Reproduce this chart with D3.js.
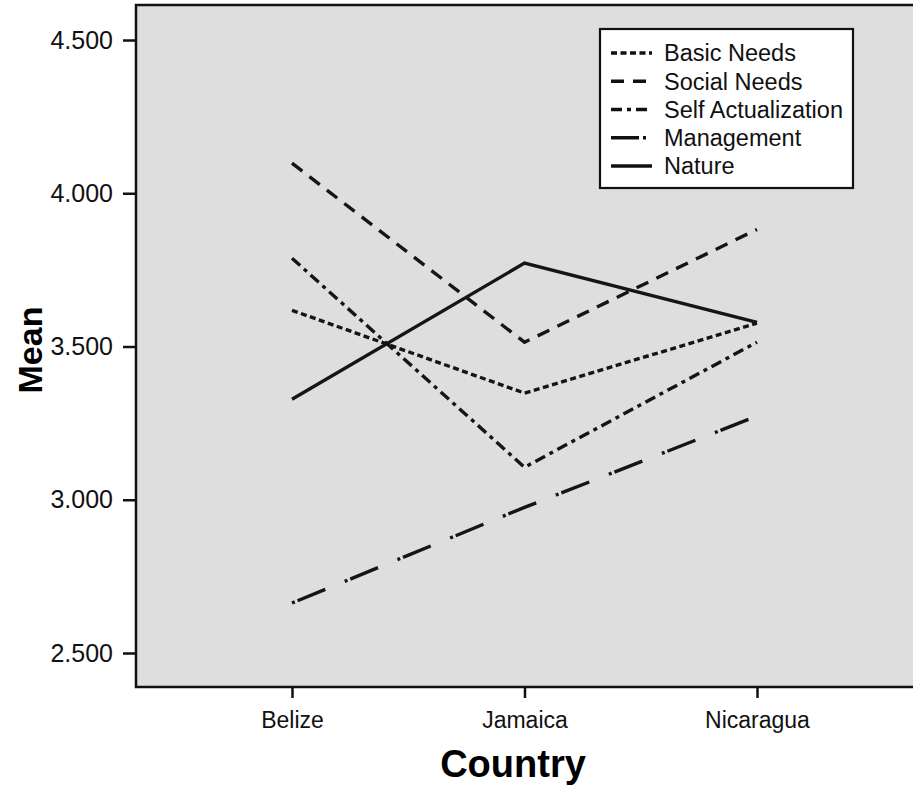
<!DOCTYPE html>
<html>
<head>
<meta charset="utf-8">
<script src="https://cdn.jsdelivr.net/npm/d3@7"></script>
<style>
  html, body { margin: 0; padding: 0; background: #fff; }
  svg { display: block; font-family: "Liberation Sans", Arial, sans-serif; }
</style>
</head>
<body>
<svg id="chart" width="913" height="786"></svg>
<script>
// ---- data ----
const countries = ["Belize", "Jamaica", "Nicaragua"];
const seriesNames = ["Basic Needs", "Social Needs", "Self Actualization", "Management", "Nature"];
const basicNeeds = [3.618, 3.348, 3.576];
const socialNeeds = [4.098, 3.514, 3.882];
const selfActualization = [3.788, 3.106, 3.514];
const management = [2.663, 2.975, 3.273];
const nature = [3.328, 3.772, 3.579];
const yTicks = [2.5, 3.0, 3.5, 4.0, 4.5];
const yTickLabels = ["2.500", "3.000", "3.500", "4.000", "4.500"];

const seriesValues = [basicNeeds, socialNeeds, selfActualization, management, nature];
const dashes = ["6,3.5", "13,9", "11,5,4,5", "3,3,30,21", null];

const svg = d3.select("#chart");
const pLeft = 136, pTop = 5, pRight = 916, pBottom = 687;

// plot background
svg.append("rect")
  .attr("x", pLeft).attr("y", pTop)
  .attr("width", pRight - pLeft).attr("height", pBottom - pTop)
  .attr("fill", "#dedede");

const x = d3.scalePoint().domain(countries).range([292, 757]);
const y = d3.scaleLinear().domain([2.5, 4.5]).range([653, 40]);

// lines
const line = d3.line().x((d, i) => x(countries[i])).y(d => y(d));
seriesValues.forEach((vals, k) => {
  const p = svg.append("path")
    .datum(vals)
    .attr("d", line)
    .attr("fill", "none")
    .attr("stroke", "#151515")
    .attr("stroke-width", 3.4)
    .attr("stroke-linejoin", "miter");
  if (dashes[k]) p.attr("stroke-dasharray", dashes[k]);
});

// frame (top, left, bottom)
svg.append("path")
  .attr("d", `M${pRight},${pTop}H${pLeft}V${pBottom}H${pRight}`)
  .attr("fill", "none").attr("stroke", "#111").attr("stroke-width", 2.5);

// y axis
const yAxis = d3.axisLeft(y).tickValues(yTicks)
  .tickFormat((d, i) => yTickLabels[i]).tickSize(13).tickPadding(10);
const gy = svg.append("g").attr("transform", `translate(${pLeft},0)`).call(yAxis);
gy.select(".domain").remove();
gy.selectAll(".tick line").attr("stroke", "#111").attr("stroke-width", 2.5);
gy.selectAll(".tick text").attr("font-size", 25).attr("fill", "#111")
  .attr("font-family", "'Liberation Sans', Arial, sans-serif");

// x axis
const xAxis = d3.axisBottom(x).tickSize(11).tickPadding(14);
const gx = svg.append("g").attr("transform", `translate(0,${pBottom})`).call(xAxis);
gx.select(".domain").remove();
gx.selectAll(".tick line").attr("stroke", "#111").attr("stroke-width", 2.5);
gx.selectAll(".tick text").attr("font-size", 23).attr("fill", "#111")
  .attr("font-family", "'Liberation Sans', Arial, sans-serif");

// axis titles
svg.append("text")
  .attr("x", 513).attr("y", 777)
  .attr("text-anchor", "middle")
  .attr("font-size", 38).attr("font-weight", "bold").attr("fill", "#000")
  .text("Country");
svg.append("text")
  .attr("transform", "translate(42,350) rotate(-90)")
  .attr("text-anchor", "middle")
  .attr("font-size", 34).attr("font-weight", "bold").attr("fill", "#000")
  .text("Mean");

// legend
const lg = svg.append("g");
lg.append("rect")
  .attr("x", 600).attr("y", 29).attr("width", 253).attr("height", 159)
  .attr("fill", "#fff").attr("stroke", "#111").attr("stroke-width", 2.2);
const rowY = d3.scalePoint().domain(seriesNames).range([53, 166]);
seriesNames.forEach((name, k) => {
  const ry = rowY(name);
  const l = lg.append("line")
    .attr("x1", 611).attr("x2", 652).attr("y1", ry).attr("y2", ry)
    .attr("stroke", "#111").attr("stroke-width", 3.4);
  if (dashes[k]) l.attr("stroke-dasharray", k === 3 ? "28,4,3,20" : dashes[k]);
  lg.append("text")
    .attr("x", 664).attr("y", ry).attr("dy", "0.36em")
    .attr("font-size", 23.5).attr("fill", "#111")
    .text(name);
});
</script>
</body>
</html>
